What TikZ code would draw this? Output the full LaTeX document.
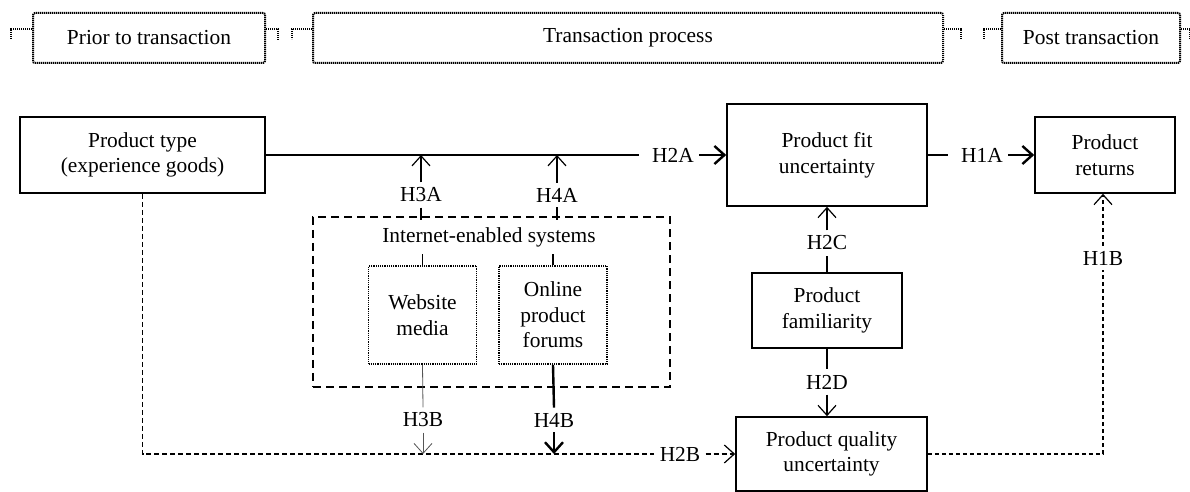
\documentclass[tikz,border=0pt]{standalone}
\usepackage{fontspec}
\setmainfont{Liberation Serif}
\usetikzlibrary{arrows.meta}
\definecolor{thingray}{HTML}{555555}

\begin{document}
\begin{tikzpicture}[x=0.5pt, y=-0.5pt,
    font=\fontsize{10.7}{12.8}\selectfont,
    phase/.style={draw, dash pattern=on 0.6pt off 0.4pt, line width=1pt, rounded corners=1pt, minimum height=25pt, inner sep=0pt},
    tab/.style={dash pattern=on 0.6pt off 0.4pt, line width=1pt},
    factor/.style={draw, line width=0.8pt, align=center, inner sep=0pt},
    system/.style={draw, dash pattern=on 0.6pt off 0.5pt, line width=0.9pt, align=center, inner sep=0pt, minimum width=54pt, minimum height=49pt},
    hyp/.style={inner sep=2.5pt},
    tip/.style={-{Straight Barb[length=5pt,width=9pt]}}]
        \useasboundingbox (0,0) rectangle (1190,492);

        % Phases along the top
        \node[phase, minimum width=116pt] (prior) at (149,38) {Prior to transaction};
        \node[phase, minimum width=315pt] (trans) at (628,38) {Transaction process};
        \node[phase, minimum width=89pt] (post) at (1091,38) {Post transaction};

        \draw[tab] ([yshift=-8.5pt]prior.north west) -- ++(-21,0) -- ++(0,10);
        \draw[tab] ([yshift=-8.5pt]prior.north east) -- ++(12,0) -- ++(0,11);
        \draw[tab] ([yshift=-8.5pt]trans.north west) -- ++(-20,0) -- ++(0,10);
        \draw[tab] ([yshift=-8.5pt]trans.north east) -- ++(17,0) -- ++(0,10);
        \draw[tab] ([yshift=-8.5pt]post.north west) -- ++(-17,0) -- ++(0,10);
        \draw[tab] ([yshift=-8.5pt]post.north east) -- ++(9,0) -- ++(0,10);

        % Constructs
        \node[factor, minimum width=122.5pt, minimum height=38pt] (ptype) at (142.5,155) {Product type\\(experience goods)};
        \node[factor, minimum width=100pt, minimum height=51pt] (fit) at (827,155) {Product fit\\uncertainty};
        \node[factor, minimum width=70pt, minimum height=38pt] (returns) at (1105,155) {Product\\returns};
        \node[factor, minimum width=75pt, minimum height=37.5pt] (familiar) at (827,310.5) {Product\\familiarity};
        \node[factor, minimum width=95.5pt, minimum height=37pt] (quality) at (831.5,454) {Product quality\\uncertainty};

        % Internet-enabled systems
        \node[draw, line width=0.8pt, dash pattern=on 4pt off 2.5pt, minimum width=178.5pt, minimum height=85pt] (internet) at (491.5,302) {};
        \node (inetlabel) at (489,237) {Internet-enabled systems};
        \node[system] (website) at (422.5,315) {Website\\media};
        \node[system] (forums) at (553,315) {Online\\product\\forums};

        % Hypothesis labels
        \node[hyp] (h2a) at (673,155) {H2A};
        \node[hyp] (h1a) at (982,155) {H1A};
        \node[hyp] (h3a) at (421,195) {H3A};
        \node[hyp] (h4a) at (557,195) {H4A};
        \node[hyp] (h3b) at (423,420) {H3B};
        \node[hyp] (h4b) at (554,420) {H4B};
        \node[hyp] (h2b) at (680,454) {H2B};
        \node[hyp] (h2c) at (827,243) {H2C};
        \node[hyp] (h2d) at (827,382) {H2D};
        \node[hyp] (h1b) at (1103,258) {H1B};

        % Main path
        \draw[line width=1.2pt, shorten >=4pt] (ptype.east) -- (h2a.west);
        \draw[line width=1.2pt, tip] (h2a.east) -- (h2a.east -| fit.west);
        \draw[line width=1.2pt, shorten >=4pt] (fit.east) -- (h1a.west);
        \draw[line width=1.2pt, tip] (h1a.east) -- (h1a.east -| returns.west);

        % Moderators on product fit uncertainty
        \draw[line width=0.6pt] (website.north) -- (website.north |- inetlabel.south);
        \draw[line width=0.6pt] (h3a.south) -- (h3a.south |- inetlabel.north);
        \draw[line width=0.6pt, tip] (h3a.north) -- (h3a.north |- ptype.east);
        \draw[line width=0.6pt] (forums.north) -- (forums.north |- inetlabel.south);
        \draw[line width=0.6pt] (h4a.south) -- (h4a.south |- inetlabel.north);
        \draw[line width=0.6pt, tip] (h4a.north) -- (h4a.north |- ptype.east);

        % Quality uncertainty path
        \draw[line width=0.6pt, dash pattern=on 2.5pt off 1.5pt] (ptype.south) |- (h2b.west);
        \draw[line width=0.6pt, dash pattern=on 2.5pt off 1.5pt, tip] (h2b.east) -- (quality.west);
        \draw[line width=0.4pt, thingray] (website.south) -- (h3b.north);
        \draw[line width=0.4pt, thingray, tip] (h3b.south) -- (h3b.south |- quality.west);
        \draw[line width=1.2pt] (forums.south) -- (h4b.north);
        \draw[line width=1.2pt, tip] (h4b.south) -- (h4b.south |- quality.west);

        % Product familiarity
        \draw[line width=0.6pt] (familiar.north) -- (h2c.south);
        \draw[line width=0.6pt, tip] (h2c.north) -- (fit.south);
        \draw[line width=0.6pt] (familiar.south) -- (h2d.north);
        \draw[line width=0.6pt, tip] (h2d.south) -- (h2d.south |- quality.north);

        % Quality uncertainty to returns
        \draw[line width=0.6pt, dash pattern=on 2pt off 1.5pt] (quality.east) -| (h1b.south);
        \draw[line width=0.6pt, dash pattern=on 2pt off 1.5pt, tip] (h1b.north) -- (h1b.north |- returns.south);
\end{tikzpicture}
\end{document}
